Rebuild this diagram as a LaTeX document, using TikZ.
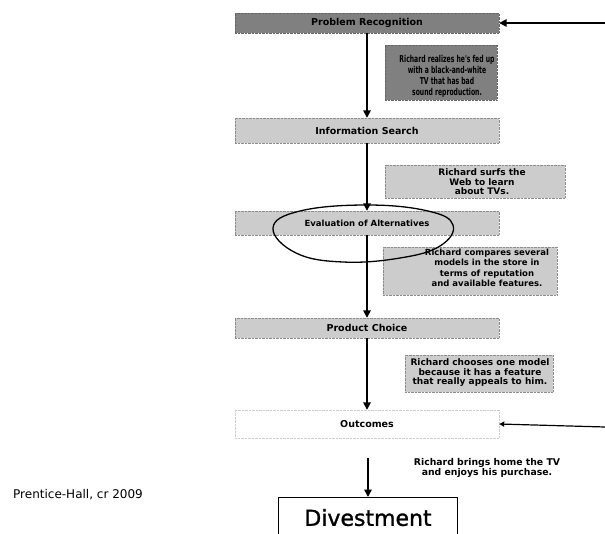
\documentclass[tikz,border=0pt]{standalone}
\usepackage{fontspec}
\setmainfont{DejaVu Sans}
\newfontfamily\narrowfont{DejaVu Sans}[FakeStretch=0.64]
\newfontfamily\heavyfont{DejaVu Sans}[FakeBold=1.2]
\usetikzlibrary{arrows.meta}
\begin{document}
\begin{tikzpicture}[x=1pt,y=-1pt,
  stage/.style={draw=black!45, densely dotted, fill=black!20, minimum width=264pt,
    inner sep=0pt, font=\bfseries\fontsize{9.5}{11}\selectfont},
  stagedark/.style={stage, fill=black!50, draw=black!60},
  stagefaint/.style={stage, fill=none, draw=black!20},
  descbox/.style={draw=black!45, densely dotted, fill=black!20, inner sep=0pt},
  descdark/.style={descbox, fill=black!50, draw=black!60},
  desctext/.style={align=center, inner sep=0pt, font=\bfseries\fontsize{9}{9.5}\selectfont},
  flow/.style={line width=1.6pt, -{Triangle[length=7.5pt,width=7.5pt]}},
  thinflow/.style={line width=1.2pt, -{Triangle[length=5pt,width=5pt]}},
  circled/.style={line width=1.3pt},
]
\clip (0,0) rectangle (605,533);
\fill[white] (0,0) rectangle (605,533);

% decision stages
\node[stagedark, minimum height=20pt] (pr) at (367,23) {Problem Recognition};
\node[stage, minimum height=25pt] (is) at (367,130.5) {Information Search};
\node[stage, minimum height=24pt, font=\bfseries\fontsize{8.5}{10}\selectfont] (ea) at (367,223) {Evaluation of Alternatives};
\node[stage, minimum height=20pt] (pc) at (367,328) {Product Choice};
\node[stagefaint, minimum height=28pt] (oc) at (367,424) {Outcomes};

% Richard's story, step by step
\node[descdark, minimum width=112pt, minimum height=55pt] (d1) at (441,72.5) {};
\node[desctext, font=\narrowfont\bfseries\fontsize{9.5}{11}\selectfont] (d1t) at (447,76)
  {Richard realizes he's fed up\\with a black-and-white\\TV that has bad\\sound reproduction.};
\node[descbox, minimum width=180pt, minimum height=33pt] (d2) at (475,181.5) {};
\node[desctext] (d2t) at (482,182) {Richard surfs the\\Web to learn\\about TVs.};
\node[descbox, minimum width=174pt, minimum height=48pt] (d3) at (470,271) {};
\node[desctext, font=\bfseries\fontsize{8.5}{10.5}\selectfont] (d3t) at (487,268)
  {Richard compares several\\models in the store in\\terms of reputation\\and available features.};
\node[descbox, minimum width=148pt, minimum height=37pt] (d4) at (479,373.5) {};
\node[desctext, font=\bfseries\fontsize{9}{9.5}\selectfont] (d4t) at (480,373)
  {Richard chooses one model\\because it has a feature\\that really appeals to him.};
\node[desctext, font=\bfseries\fontsize{9.3}{10}\selectfont] (d5t) at (487,468)
  {Richard brings home the TV\\and enjoys his purchase.};

% final stage and source line
\node[draw, line width=1.2pt, minimum width=179pt, minimum height=40pt, anchor=north,
  font=\heavyfont\fontsize{22}{26}\selectfont] (dv) at (368,497) {Divestment};
\node[anchor=west, inner sep=0pt, font=\fontsize{12}{14}\selectfont] (src) at (13,495) {Prentice-Hall, cr 2009};

% connectors
\coordinate (prin) at (605,23);
\coordinate (ocin) at (605,427);
\coordinate (dvfrom) at (368,458);
\draw[flow] (prin) -- (pr.east);
\draw[flow] (pr.south) -- (is.north);
\draw[flow] (is.south) -- (ea.north);
\draw[flow] (ea.south) -- (pc.north);
\draw[flow] (pc.south) -- (oc.north);
\draw[thinflow] (ocin) -- (oc.east);
\draw[flow] (dvfrom) -- (dv.north);

% hand-drawn loop round the evaluation stage
\draw[circled] plot[smooth cycle, tension=0.7] coordinates
  {(273,228) (300,211) (367,205) (428,211) (453,225) (440,246) (400,258) (343,262) (296,253)};
\end{tikzpicture}
\end{document}
